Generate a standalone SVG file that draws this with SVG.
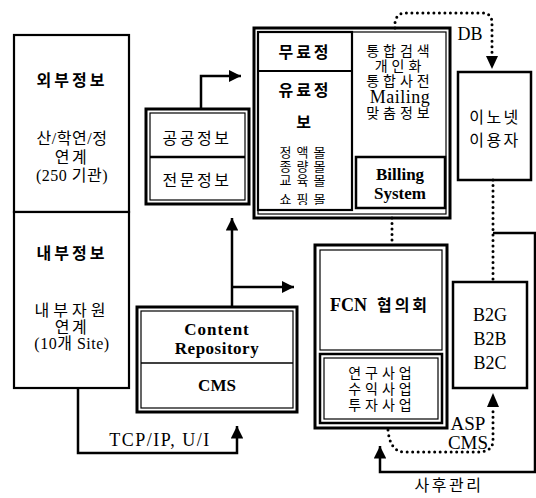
<svg xmlns="http://www.w3.org/2000/svg" width="536" height="498" viewBox="0 0 536 498">
<style>
text{font-family:"Liberation Serif","Noto Sans CJK KR",serif;fill:#000;text-anchor:middle;dominant-baseline:central}
.k{font-size:16px;letter-spacing:2.5px}
.kb{font-size:16px;letter-spacing:3px;font-weight:bold}
.m{font-size:16px;letter-spacing:0.5px}
.t{font-size:14px;letter-spacing:4px}
.s{font-size:13px;letter-spacing:5px}
.e{font-size:18px}
.eb{font-size:17px;font-weight:bold}
.box{fill:#fff;stroke:#000;stroke-width:2.2}
.thick{fill:none;stroke:#000;stroke-width:3}
.thin{fill:none;stroke:#000;stroke-width:1.2}
.ln{fill:none;stroke:#000;stroke-width:2.5}
.dot{fill:none;stroke:#000;stroke-width:3;stroke-linecap:round;stroke-dasharray:0 5.5}
</style>
<defs>
<marker id="ah" viewBox="0 0 10 10" refX="10" refY="5" markerWidth="5" markerHeight="5" orient="auto" markerUnits="strokeWidth"><path d="M0,0 L10,5 L0,10 Z" fill="#000"/></marker>
<clipPath id="pc"><rect x="258" y="72" width="94" height="133"/></clipPath>
</defs>
<rect width="536" height="498" fill="#fff"/>

<g id="connectors">
<path class="ln" d="M201,108 V76 H241" marker-end="url(#ah)"/>
<path class="ln" d="M232,307 V218" marker-end="url(#ah)"/>
<path class="ln" d="M232,287 H294" marker-end="url(#ah)"/>
<path class="ln" d="M78,388 V453 H237 V426" marker-end="url(#ah)"/>
<path class="ln" d="M493,233 H535 V472 H380 V446" marker-end="url(#ah)"/>
<path class="dot" d="M395,28 V23 Q396,13 406,13 H482 Q492,13 492,23 V56"/>
<path d="M486,56 L498,56 L492,69 Z" fill="#000"/>
<path class="dot" d="M493,180 V282"/>
<path class="dot" d="M392,218 V245"/>
<path class="dot" d="M388,430 Q390,452 405,452 H478 Q493,452 493,440 V408"/>
<path d="M487,407 L499,407 L493,393 Z" fill="#000"/>
<text class="e" x="470" y="34">DB</text>
<text class="e" x="160" y="440" style="letter-spacing:1.5px">TCP/IP, U/I</text>
<text class="e" x="468" y="423" style="font-size:19px">ASP</text>
<text class="e" x="468" y="442" style="font-size:19px">CMS</text>
<text class="k" x="449" y="485">사후관리</text>
</g>

<g id="external">
<rect class="box" x="14" y="35" width="115" height="177"/>
<text class="kb" x="72" y="80">외부정보</text>
<text class="m" x="72" y="138">산/학연/정</text>
<text class="k" x="72" y="157">연계</text>
<text class="m" x="72" y="175">(250 기관)</text>
</g>

<g id="internal">
<rect class="box" x="14" y="212" width="115" height="176"/>
<text class="kb" x="72" y="253">내부정보</text>
<text class="k" x="72" y="310" style="letter-spacing:4px">내부자원</text>
<text class="k" x="72" y="327">연계</text>
<text class="m" x="72" y="343">(10개 Site)</text>
</g>

<g id="public-info">
<rect class="thick" x="146" y="109" width="103" height="95" fill="#fff"/>
<rect class="thin" x="150" y="113" width="95" height="87"/>
<line x1="150" y1="157" x2="245" y2="157" stroke="#000" stroke-width="2.5"/>
<text class="k" x="197" y="138">공공정보</text>
<text class="k" x="197" y="180">전문정보</text>
</g>

<g id="services">
<rect class="thick" x="254" y="28" width="196" height="190" fill="#fff"/>
<rect class="thin" x="258" y="32" width="188" height="182"/>
<rect class="box" x="258" y="32" width="94" height="178" fill="none"/>
<line x1="258" y1="71" x2="352" y2="71" stroke="#000" stroke-width="2.2"/>
<text class="kb" x="305" y="52">무료정</text>
<text class="kb" x="305" y="90">유료정</text>
<text class="kb" x="305" y="122">보</text>
<text class="s" x="305" y="152">정액몰</text>
<text class="s" x="305" y="166">종량몰</text>
<text class="s" x="305" y="180">교육몰</text>
<text class="s" x="305" y="199" clip-path="url(#pc)">쇼핑몰</text>
<text class="t" x="400" y="51">통합검색</text>
<text class="t" x="400" y="66">개인화</text>
<text class="t" x="400" y="81">통합사전</text>
<text class="e" x="400" y="97" style="letter-spacing:0.5px">Mailing</text>
<text class="t" x="400" y="113">맞춤정보</text>
</g>

<g id="billing">
<rect class="ln" x="356" y="157" width="89" height="51" fill="#fff"/>
<text class="eb" x="400" y="174">Billing</text>
<text class="eb" x="400" y="193">System</text>
</g>

<g id="inonet-user">
<rect class="ln" x="458" y="72" width="73" height="108" fill="#fff"/>
<text class="k" x="495" y="117">이노넷</text>
<text class="k" x="495" y="140">이용자</text>
</g>

<g id="content-repository">
<rect class="thick" x="137" y="307" width="160" height="105" fill="#fff"/>
<rect class="thin" x="141" y="311" width="152" height="97"/>
<line x1="141" y1="363" x2="293" y2="363" stroke="#000" stroke-width="1.5"/>
<text class="eb" x="217" y="329" style="letter-spacing:1px">Content</text>
<text class="eb" x="217" y="348" style="letter-spacing:0.5px">Repository</text>
<text class="eb" x="217" y="385">CMS</text>
</g>

<g id="fcn">
<rect class="thick" x="315" y="245" width="132" height="183" fill="#fff"/>
<rect class="thin" x="320" y="250" width="122" height="100"/>
<rect x="320" y="354" width="122" height="69" fill="none" stroke="#000" stroke-width="2.5"/>
<rect class="thin" x="324" y="358" width="114" height="61"/>
<text class="eb" x="380" y="305" style="font-size:18px"><tspan>FCN</tspan><tspan dx="10" class="kb">협의회</tspan></text>
<text class="t" x="382" y="373">연구사업</text>
<text class="t" x="382" y="389">수익사업</text>
<text class="t" x="382" y="405">투자사업</text>
</g>

<g id="b2x">
<rect class="ln" x="453" y="282" width="74" height="106" fill="#fff"/>
<text class="e" x="490" y="315">B2G</text>
<text class="e" x="490" y="339">B2B</text>
<text class="e" x="490" y="363">B2C</text>
</g>
</svg>
